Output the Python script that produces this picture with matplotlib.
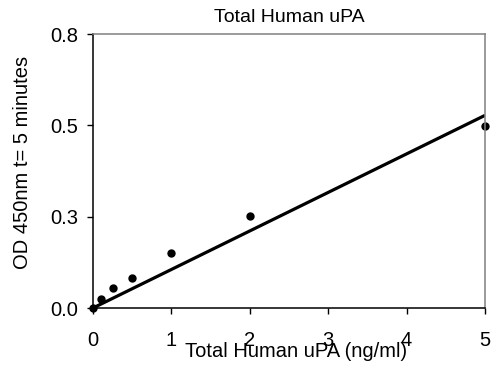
import numpy as np
import matplotlib
matplotlib.use('Agg')
import matplotlib.pyplot as plt

plt.rcParams['font.family'] = ['Liberation Sans', 'DejaVu Sans']

# standard curve data
conc = [0, 0.1, 0.25, 0.5, 1, 2, 5]
od = [0.0, 0.026, 0.058, 0.088, 0.16, 0.27, 0.53]
yticks = [0, 0.8 / 3, 1.6 / 3, 0.8]
ytick_labels = ['0.0', '0.3', '0.5', '0.8']
xticks = [0, 1, 2, 3, 4, 5]

# linear trendline forced through origin
x = np.array(conc)
y = np.array(od)
slope = np.sum(x * y) / np.sum(x * x)
line_x = np.array([0, 5])
line_y = slope * line_x

fig = plt.figure(figsize=(4.92, 3.71), dpi=100)
ax = fig.add_axes([93 / 492, 1 - 308 / 371, 392 / 492, 274 / 371])

ax.plot(line_x, line_y, color='black', linewidth=2.3, solid_capstyle='butt')
ax.plot(conc, od, 'o', color='black', markersize=5, clip_on=False)

ax.set_xlim(0, 5)
ax.set_ylim(0, 0.8)
ax.set_xticks(xticks)
ax.set_yticks(yticks)
ax.set_yticklabels(ytick_labels)

ax.tick_params(axis='x', direction='out', length=4.5, width=1, pad=12, labelsize=14.5)
ax.tick_params(axis='y', direction='out', length=4.5, width=1, pad=6, labelsize=14.5)

for side in ['left', 'bottom']:
    ax.spines[side].set_color('black')
    ax.spines[side].set_linewidth(1.1)
for side in ['top', 'right']:
    ax.spines[side].set_color('#808080')
    ax.spines[side].set_linewidth(1.1)

ax.set_title('Total Human uPA', fontsize=14, pad=9)
ax.set_xlabel('Total Human uPA (ng/ml)', fontsize=14.5)
ax.xaxis.set_label_coords(0.518, -0.125)
ax.set_ylabel('OD 450nm t= 5 minutes', fontsize=14.5)
ax.yaxis.set_label_coords(-0.156, 0.531)

fig.savefig('out.png', dpi=100)
